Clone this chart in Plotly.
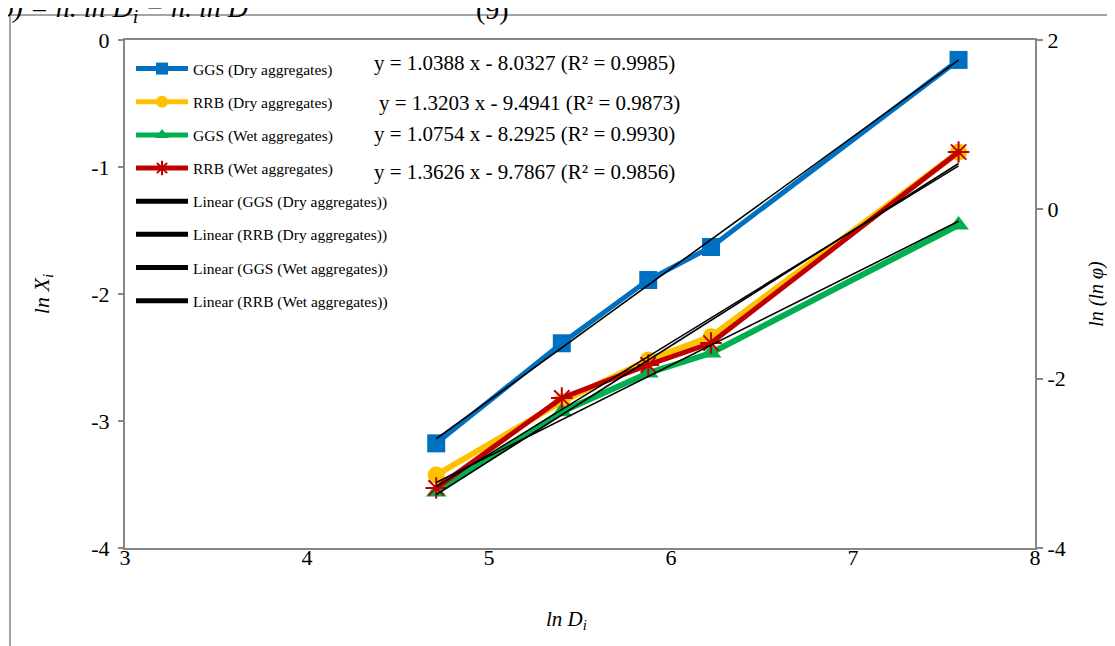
import plotly.graph_objects as go

# ---- data ----
ln_D = [4.71, 5.40, 5.875, 6.22, 7.58]
ggs_dry = [-3.176, -2.388, -1.890, -1.630, -0.157]   # left axis (ln X_i)
rrb_dry = [-3.138, -2.272, -1.779, -1.504, 0.674]    # right axis (ln(ln phi))
ggs_wet = [-3.338, -2.390, -1.933, -1.697, -0.185]   # right axis
rrb_wet = [-3.291, -2.228, -1.838, -1.579, 0.677]    # right axis

series_names = ["GGS (Dry aggregates)", "RRB (Dry aggregates)",
                "GGS (Wet aggregates)", "RRB (Wet aggregates)"]
slopes = [1.0388, 1.3203, 1.0754, 1.3626]
intercepts = [-8.0327, -9.4941, -8.2925, -9.7867]
r2 = [0.9985, 0.9873, 0.9930, 0.9856]

x_ticks = [3, 4, 5, 6, 7, 8]
y_ticks = [0, -1, -2, -3, -4]
y2_ticks = [2, 0, -2, -4]

FONT = "Liberation Serif, Times New Roman, serif"
GRAY = "#868686"
colors = ["#0070C0", "#FFC000", "#00B050", "#C00000"]
symbols = ["square", "circle", "triangle-up", "asterisk-open"]
msizes = [18, 17, 18, 18]
lwidths = [5, 6, 6, 5]
values = [ggs_dry, rrb_dry, ggs_wet, rrb_wet]
yaxes = ["y", "y2", "y2", "y2"]

# page is offset by the 8px body margin
OFF = 8
FW, FH = 1115 - OFF, 646 - OFF
L, T, W, H = 125 - OFF, 40 - OFF, 910, 508


def px_x(p):  # page pixel -> paper x
    return (p - OFF - L) / W


def px_y(p):  # page pixel -> paper y
    return 1 - (p - OFF - T) / H


fig = go.Figure()

for i in range(4):
    marker = dict(symbol=symbols[i], size=msizes[i], color=colors[i])
    if symbols[i] == "asterisk-open":
        marker["line"] = dict(color=colors[i], width=2)
    fig.add_trace(go.Scatter(
        x=ln_D, y=values[i], yaxis=yaxes[i], mode="lines+markers",
        name=series_names[i], line=dict(color=colors[i], width=lwidths[i]),
        marker=marker, legendrank=i + 1, legendgroup="g%d" % i))

for i in range(4):
    xs = [ln_D[0], ln_D[-1]]
    ys = [slopes[i] * xv + intercepts[i] for xv in xs]
    fig.add_trace(go.Scatter(
        x=xs, y=ys, yaxis=yaxes[i], mode="lines",
        name="Linear (%s)" % series_names[i],
        line=dict(color="black", width=1.6),
        legendrank=5 + i, legendgroup="t%d" % i))

# trend-line equations
eq_pos = [(372, 63), (377, 103), (372, 134), (372, 172)]
for i in range(4):
    px, py = eq_pos[i]
    fig.add_annotation(
        text="y = %.4f x - %.4f (R² = %.4f)" % (slopes[i], -intercepts[i], r2[i]),
        xref="paper", yref="paper", x=px_x(px), y=px_y(py),
        xanchor="left", yanchor="middle", showarrow=False,
        font=dict(family=FONT, size=21, color="black"))

# x-axis title (placed as in the original, slightly left of centre)
fig.add_annotation(text="<i>ln D</i><sub><i>i</i></sub>", xref="paper", yref="paper",
                   x=px_x(566), y=px_y(620), xanchor="center", yanchor="middle",
                   showarrow=False, font=dict(family=FONT, size=21, color="black"))

# document text partly cut at the top
fig.add_annotation(text="<i>φ) = n. ln D</i><sub><i>i</i></sub><i> − n. ln D</i>",
                   xref="paper", yref="paper", x=px_x(-4), y=px_y(29),
                   xanchor="left", yanchor="bottom", showarrow=False,
                   font=dict(family=FONT, size=28, color="black"))
fig.add_annotation(text="(9)", xref="paper", yref="paper", x=px_x(474),
                   y=px_y(27), xanchor="left", yanchor="bottom",
                   showarrow=False, font=dict(family=FONT, size=28, color="black"))

# outer chart border
fig.add_shape(type="rect", xref="paper", yref="paper",
              x0=px_x(10), y0=-0.5, x1=1.5, y1=px_y(15),
              line=dict(color=GRAY, width=1.5), fillcolor="rgba(0,0,0,0)")

fig.update_layout(
    width=FW, height=FH,
    margin=dict(l=L, r=FW - L - W, t=T, b=FH - T - H),
    paper_bgcolor="white", plot_bgcolor="white",
    font=dict(family=FONT, color="black"),
    showlegend=True,
    legend=dict(x=px_x(131), y=px_y(52), xanchor="left", yanchor="top",
                bgcolor="rgba(255,255,255,0)", font=dict(family=FONT, size=15.5),
                itemwidth=52, itemsizing="constant", traceorder="grouped",
                tracegroupgap=10),
    xaxis=dict(range=[3, 8], tickvals=x_ticks, ticktext=[str(v) for v in x_ticks],
               showgrid=False, zeroline=False,
               showline=True, linecolor=GRAY, linewidth=2, mirror=True,
               ticks="", tickfont=dict(size=22, family=FONT), ticklabelstandoff=-11),
    xaxis2=dict(range=[3, 8], tickvals=x_ticks, overlaying="x", side="top",
                anchor="y", matches="x", showgrid=False, zeroline=False,
                showline=False, ticks="inside", ticklen=7, tickcolor=GRAY,
                tickwidth=2, showticklabels=False),
    yaxis=dict(range=[-4, 0], tickvals=y_ticks, ticktext=[str(v) for v in y_ticks],
               showgrid=False, zeroline=False,
               showline=True, linecolor=GRAY, linewidth=2, mirror=True,
               ticks="outside", ticklen=5, tickcolor=GRAY, tickwidth=2,
               tickfont=dict(size=22, family=FONT), ticklabelstandoff=4,
               title=dict(text="<i>ln X</i><sub><i>i</i></sub>",
                          font=dict(size=22, family=FONT), standoff=36)),
    yaxis2=dict(range=[-4, 2], tickvals=y2_ticks, ticktext=[str(v) for v in y2_ticks],
                overlaying="y", side="right",
                anchor="x", showgrid=False, zeroline=False, showline=True,
                linecolor=GRAY, linewidth=2, ticks="outside", ticklen=6,
                tickcolor=GRAY, tickwidth=2, tickfont=dict(size=22, family=FONT),
                title=dict(text="<i>ln (ln φ)</i>", font=dict(size=20, family=FONT),
                           standoff=24)),
)

fig.write_html("out.html")
